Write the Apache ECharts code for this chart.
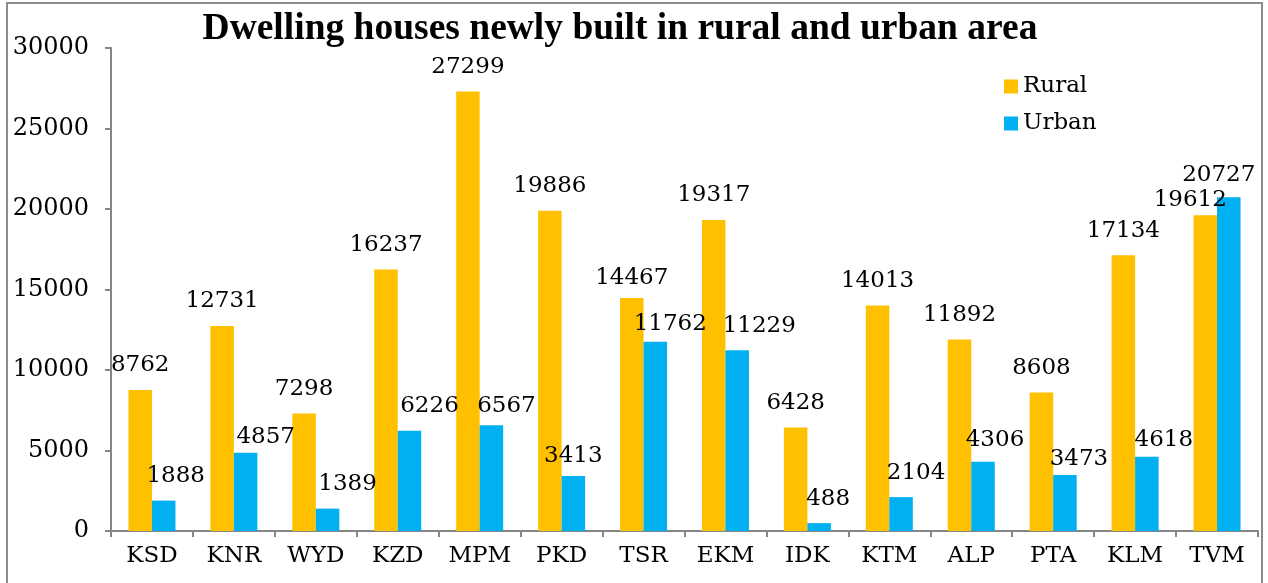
<!DOCTYPE html>
<html><head><meta charset="utf-8">
<script src="https://cdn.jsdelivr.net/npm/echarts@6/dist/echarts.min.js"></script>
<style>html,body{margin:0;padding:0;background:#fff}#c{width:1268px;height:583px}</style>
</head><body><div id="c"></div>
<script>
var categories = ['KSD','KNR','WYD','KZD','MPM','PKD','TSR','EKM','IDK','KTM','ALP','PTA','KLM','TVM'];
var rural = [8762,12731,7298,16237,27299,19886,14467,19317,6428,14013,11892,8608,17134,19612];
var urban = [1888,4857,1389,6226,6567,3413,11762,11229,488,2104,4306,3473,4618,20727];
var yTicks = [0,5000,10000,15000,20000,25000,30000];

// manual nudges of the data labels (as placed in the original chart), in px
var ruralLabelNudgeX = [0,0,0,0,0,0,0,0,0,0,0,0,0,-15];
var ruralLabelNudgeY = [0,0,0,0,0,0,4,0,0,0,0,0,0,9];
var urbanLabelNudgeX = [12,20,20,20,15,0,15,22,9,15,12,14,17,-10];
var urbanLabelNudgeY = [0,9,0,0,5,4,7,0,0,0,3,8,8,2];

function items(values, nx, ny) {
  return values.map(function (v, i) {
    return {value: v, label: {offset: [nx[i], ny[i]]}};
  });
}

var serif = '"DejaVu Serif", Georgia, serif';
var chart = echarts.init(document.getElementById('c'), null, {renderer:'canvas'});
chart.setOption({
  animation: false,
  backgroundColor: '#fff',
  title: {
    text: 'Dwelling houses newly built in rural and urban area',
    left: 615, top: 5, textAlign: 'center',
    textStyle: {fontFamily: '"Liberation Serif", serif', fontWeight: 'bold', fontSize: 37.5, color: '#000'}
  },
  legend: {
    orient: 'vertical', left: 999, top: 70, padding: 5,
    itemWidth: 14, itemHeight: 14, itemGap: 14, icon: 'rect',
    textStyle: {fontFamily: serif, fontSize: 23, color: '#000'},
    data: ['Rural','Urban']
  },
  grid: {left: 111, right: 10, top: 48, bottom: 52, containLabel: false},
  xAxis: {
    type: 'category', data: categories,
    axisLine: {lineStyle: {color: '#868686', width: 2}},
    axisTick: {show: true, length: 6, alignWithLabel: false, lineStyle: {color: '#868686', width: 2}},
    axisLabel: {fontFamily: serif, fontSize: 23, color: '#000', margin: 14}
  },
  yAxis: {
    type: 'value', min: yTicks[0], max: yTicks[yTicks.length-1], interval: 5000,
    splitLine: {show: false},
    axisLine: {show: true, lineStyle: {color: '#868686', width: 2}},
    axisTick: {show: true, length: 6, lineStyle: {color: '#868686', width: 2}},
    axisLabel: {fontFamily: serif, fontSize: 24, color: '#000', margin: 22,
      formatter: function (v) { return String(v); }}
  },
  series: [
    {name: 'Rural', type: 'bar', data: items(rural, ruralLabelNudgeX, ruralLabelNudgeY),
     barWidth: 23.5, barGap: '0%',
     itemStyle: {color: '#FFC000'},
     label: {show: true, position: 'top', distance: 13, fontFamily: serif, fontSize: 23, color: '#000'}},
    {name: 'Urban', type: 'bar', data: items(urban, urbanLabelNudgeX, urbanLabelNudgeY),
     barWidth: 23.5, barGap: '0%',
     itemStyle: {color: '#00B0F0'},
     label: {show: true, position: 'top', distance: 13, fontFamily: serif, fontSize: 23, color: '#000'}}
  ],
  graphic: [{type: 'rect', shape: {x: 7, y: 3, width: 1255, height: 600},
    style: {fill: 'none', stroke: '#8c8c8c', lineWidth: 2}, silent: true, z: 100}]
});
</script></body></html>
